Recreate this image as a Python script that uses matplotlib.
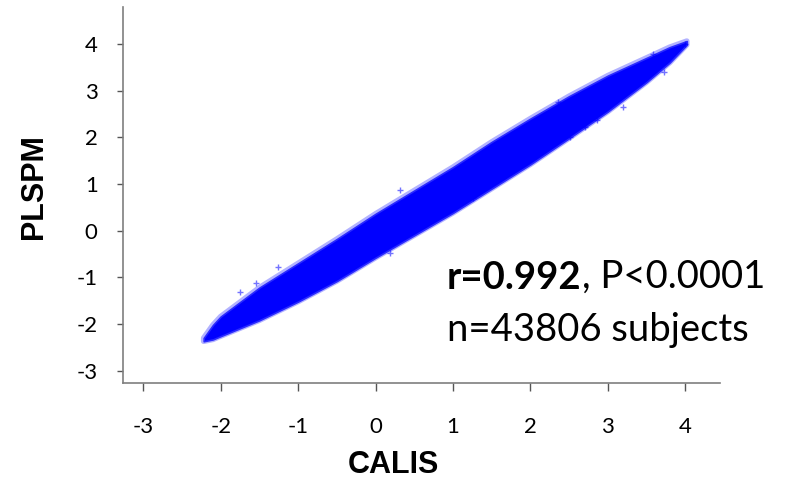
import matplotlib.pyplot as plt

plt.rcParams['axes.unicode_minus'] = False

# bordes de la nube de puntos
band_x = [-2.22, -2.1, -2.0, -1.5, -1.0, -0.5, 0.0, 0.5, 1.0, 1.5, 2.0, 2.5, 3.0, 3.5, 3.8, 4.02]
band_low = [-2.37, -2.33, -2.26, -1.92, -1.52, -1.08, -0.58, -0.10, 0.38, 0.90, 1.42, 1.98, 2.55, 3.18, 3.60, 3.98]
band_high = [-2.30, -2.02, -1.84, -1.22, -0.70, -0.18, 0.36, 0.86, 1.36, 1.90, 2.40, 2.88, 3.32, 3.70, 3.93, 4.06]

# puntos sueltos fuera del nucleo
out_x = [-1.75, -1.54, -1.26, 0.19, 0.32, 1.26, 2.36, 2.51, 2.71, 2.86, 3.07, 3.20, 3.25, 3.42, 3.59, 3.63, 3.72, 4.00]
out_y = [-1.31, -1.13, -0.78, -0.49, 0.87, 0.69, 2.76, 2.01, 2.22, 2.37, 3.22, 2.65, 3.37, 3.44, 3.79, 3.58, 3.40, 4.00]

x_ticks = [-3, -2, -1, 0, 1, 2, 3, 4]
y_ticks = [-3, -2, -1, 0, 1, 2, 3, 4]

fig = plt.figure(figsize=(7.86, 4.82), dpi=100)
ax = fig.add_axes([0.1561, 0.2048, 0.760, 0.7807])

# nucleo denso + borde difuso
ax.fill_between(band_x, band_low, band_high, facecolor='none', edgecolor=(0, 0, 1, 0.3), linewidth=4)
ax.fill_between(band_x, band_low, band_high, color='#0000ff', linewidth=1.2, edgecolor='#2a2aff')
ax.plot(out_x, out_y, linestyle='none', marker='+', markersize=5, mew=1, color='#0000ff', alpha=0.55)

ax.set_xlim(-3.266, 4.45)
ax.set_ylim(-3.27, 4.79)
ax.set_xticks(x_ticks)
ax.set_yticks(y_ticks)

for s in ['top', 'right']:
    ax.spines[s].set_visible(False)
for s in ['left', 'bottom']:
    ax.spines[s].set_color('#7f7f7f')
    ax.spines[s].set_linewidth(1.2)

ax.tick_params(axis='x', length=6, width=1, color='#555555', pad=18, labelsize=16)
ax.tick_params(axis='y', length=4, width=1, color='#555555', pad=14, labelsize=16)
for lab in ax.get_xticklabels() + ax.get_yticklabels():
    lab.set_family('Lato')

# titulos de ejes
fig.text(34.5 / 786, 1 - 187 / 482, 'PLSPM', rotation=90, ha='center', va='center',
         family='Liberation Sans', fontweight='bold', fontsize=22)
fig.text(393 / 786, 1 - 465 / 482, 'CALIS', ha='center', va='center',
         family='Liberation Sans', fontweight='bold', fontsize=22)

# anotacion
t1 = fig.text(447 / 786, 1 - 289 / 482, 'r=0.992', ha='left', va='baseline',
              family='Lato', fontweight='bold', fontsize=27.5)
ax.annotate(', P<0.0001', xy=(1, 0), xycoords=t1, ha='left', va='bottom',
            family='Lato', fontsize=27.5)
fig.text(447 / 786, 1 - 341 / 482, 'n=43806 subjects', ha='left', va='baseline',
         family='Lato', fontsize=27.5)

fig.savefig('out.png', dpi=100)
